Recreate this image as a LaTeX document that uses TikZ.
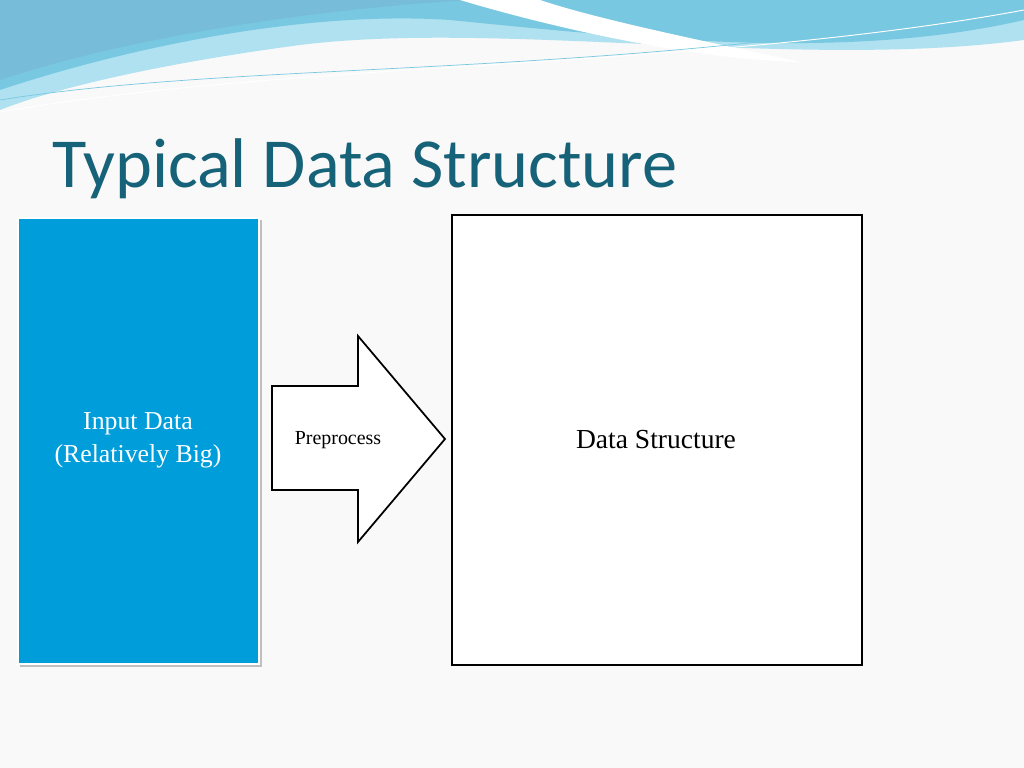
\documentclass[tikz,border=0pt]{standalone}
\usepackage{fontspec}
\setmainfont{Liberation Serif}
\newfontfamily\titlefont{Carlito}
\definecolor{titleteal}{RGB}{22,98,120}
\definecolor{boxblue}{RGB}{0,157,219}
\definecolor{wave1}{RGB}{120,200,225}
\definecolor{wave2}{RGB}{175,225,240}
\definecolor{wave3}{RGB}{60,160,200}
\begin{document}
\begin{tikzpicture}[x=0.03cm,y=-0.03cm,
  txt/.style={inner sep=0pt,align=center}]
\useasboundingbox (0,0) rectangle (1024,768);
\fill[gray!5] (0,0) rectangle (1024,768);
% waves
\fill[wave2] (0,0) -- (1024,0) -- (1024,40) .. controls (800,70) and (500,20) .. (300,45) .. controls (150,65) and (50,90) .. (0,110) -- cycle;
\fill[wave1] (0,0) -- (1024,0) -- (1024,20) .. controls (850,60) and (650,40) .. (450,20) .. controls (300,10) and (120,50) .. (0,90) -- cycle;
\fill[wave3!70] (0,0) -- (470,0) .. controls (300,10) and (120,40) .. (0,80) -- cycle;
\fill[white] (460,0) .. controls (560,30) and (700,60) .. (800,62) .. controls (700,40) and (600,20) .. (540,0) -- cycle;
\draw[white,line width=0.8pt] (0,112) .. controls (300,60) and (700,70) .. (1024,10);
\draw[wave1,line width=0.6pt] (0,100) .. controls (250,60) and (600,80) .. (1024,5);
% title
\node[txt,anchor=base west,text=titleteal,font=\titlefont\fontsize{60}{66}\selectfont] (title) at (52,188) {Typical Data Structure};
% input box
\fill[black!25] (20,220) rectangle (262,667);
\node[draw=white,line width=2pt,fill=boxblue,minimum width=241*0.03cm,minimum height=446*0.03cm,inner sep=0pt,anchor=north west] (input) at (17,217) {};
\node[txt,text=white,font=\fontsize{22}{28}\selectfont] (inlbl) at (138,440) {Input Data\\(Relatively Big)};
% arrow
\draw[line width=1.5pt,fill=white,line join=miter] (272,386) coordinate (a1) -- (358,386) -- (358,336) -- (445,439) coordinate (tip) -- (358,542) -- (358,490) -- (272,490) -- cycle;
\node[txt,font=\fontsize{17}{20}\selectfont] (pre) at (338,440) {Preprocess};
% data structure
\node[draw=black,line width=1.5pt,fill=white,minimum width=410*0.03cm,minimum height=450*0.03cm,inner sep=0pt,anchor=north west] (ds) at (451,214) {};
\node[txt,font=\fontsize{23.5}{28}\selectfont] (dslbl) at (656,440) {Data Structure};
\end{tikzpicture}
\end{document}
